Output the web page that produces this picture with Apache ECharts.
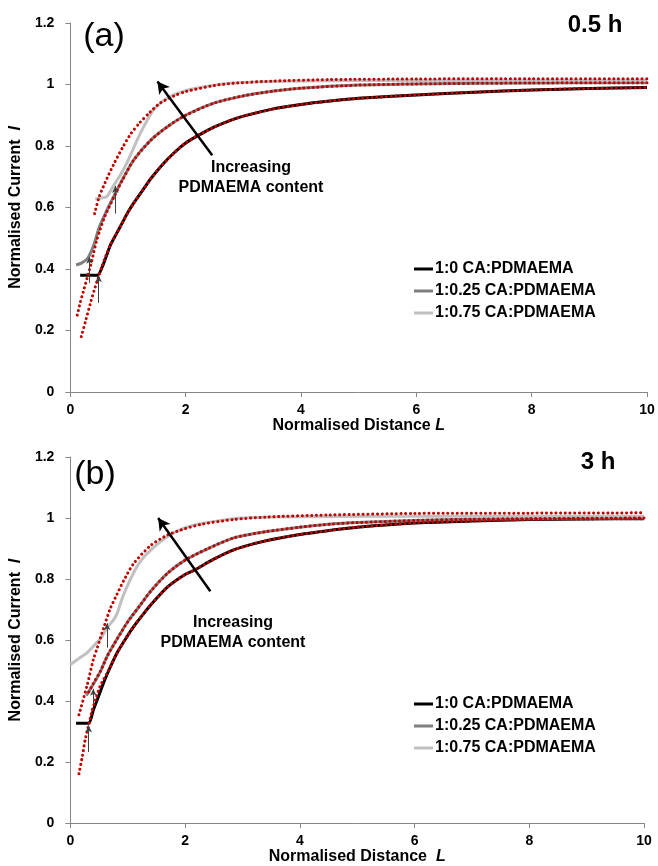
<!DOCTYPE html>
<html><head><meta charset="utf-8">
<script src="https://cdn.jsdelivr.net/npm/echarts@6/dist/echarts.min.js"></script>
<style>html,body{margin:0;padding:0;background:#fff}#c{width:658px;height:866px}</style>
</head><body><div id="c"></div>
<script>
// ---------- data ----------
const names = ['1:0 CA:PDMAEMA', '1:0.25 CA:PDMAEMA', '1:0.75 CA:PDMAEMA'];
const xTicks = [0, 2, 4, 6, 8, 10];
const yTicks = [0, 0.2, 0.4, 0.6, 0.8, 1, 1.2];

// panel (a) 0.5 h
const blackA_x = [0.17,0.3,0.47,0.55,0.62,0.7,0.8,0.9,1.0,1.1,1.25,1.4,1.6,1.8,2.0,2.25,2.5,2.8,3.0,3.5,4.0,4.5,5,6,7,8,9,10];
const blackA_y = [0.38,0.38,0.38,0.405,0.44,0.48,0.515,0.55,0.585,0.615,0.655,0.695,0.74,0.778,0.81,0.838,0.862,0.885,0.897,0.92,0.935,0.946,0.955,0.966,0.975,0.982,0.987,0.99];
const fitBlackA_x = [0.19,0.27,0.35,0.42,0.49,0.55,0.62,0.7,0.8,0.9,1.0,1.1,1.25,1.4,1.6,1.8,2.0,2.25,2.5,2.8,3.0,3.5,4.0,4.5,5,6,7,8,9,10];
const fitBlackA_y = [0.18,0.235,0.29,0.335,0.375,0.41,0.445,0.48,0.515,0.55,0.585,0.615,0.655,0.695,0.74,0.778,0.81,0.838,0.862,0.885,0.897,0.92,0.935,0.946,0.955,0.966,0.975,0.982,0.987,0.99];
const darkA_x = [0.1,0.2,0.3,0.4,0.5,0.6,0.75,0.9,1.1,1.4,1.7,2.0,2.5,3.0,3.5,4.0,5,6,8,10];
const darkA_y = [0.413,0.42,0.435,0.475,0.535,0.578,0.635,0.69,0.755,0.82,0.865,0.90,0.94,0.963,0.978,0.988,0.998,1.002,1.005,1.006];
const fitDarkA_x = [0.12,0.17,0.23,0.29,0.35,0.4,0.46,0.52,0.6,0.75,0.9,1.1,1.4,1.7,2.0,2.5,3.0,3.5,4.0,5,6,8,10];
const fitDarkA_y = [0.25,0.29,0.33,0.37,0.41,0.45,0.495,0.53,0.572,0.632,0.688,0.755,0.82,0.865,0.90,0.94,0.963,0.978,0.988,0.998,1.002,1.005,1.006];
const lightA_x = [0.43,0.5,0.63,0.7,0.78,0.88,0.98,1.1,1.21,1.32,1.44,1.6,1.79,2.0,2.25,2.5,2.83,3.5,4.5,6,8,10];
const lightA_y = [0.628,0.63,0.635,0.655,0.68,0.71,0.745,0.795,0.84,0.88,0.917,0.945,0.966,0.98,0.99,0.998,1.005,1.01,1.012,1.013,1.013,1.013];
const fitLightA_x = [0.42,0.5,0.6,0.75,0.92,1.05,1.2,1.38,1.56,1.8,2.0,2.5,2.83,3.5,4.5,6,8,10];
const fitLightA_y = [0.58,0.635,0.68,0.74,0.80,0.84,0.875,0.91,0.94,0.963,0.977,0.997,1.004,1.011,1.016,1.018,1.019,1.019];

// panel (b) 3 h
const blackB_x = [0.1,0.2,0.32,0.4,0.47,0.56,0.65,0.82,1.0,1.1,1.25,1.4,1.7,2.0,2.15,2.5,2.87,3.4,4.0,4.55,5,6,7,8,9,10];
const blackB_y = [0.327,0.327,0.327,0.37,0.405,0.45,0.492,0.56,0.615,0.643,0.68,0.715,0.775,0.815,0.828,0.865,0.897,0.925,0.946,0.96,0.97,0.984,0.99,0.995,0.997,0.998];
const fitBlackB_x = [0.15,0.21,0.26,0.33,0.38,0.44,0.52,0.65,0.82,1.0,1.1,1.25,1.4,1.7,2.0,2.15,2.5,2.87,3.4,4.0,4.55,5,6,7,8,9,10];
const fitBlackB_y = [0.162,0.22,0.275,0.33,0.37,0.405,0.45,0.495,0.56,0.615,0.643,0.68,0.715,0.775,0.815,0.828,0.865,0.897,0.925,0.946,0.96,0.97,0.984,0.99,0.995,0.997,0.998];
const darkB_x = [0.28,0.4,0.53,0.65,0.82,1.0,1.2,1.4,1.7,2.0,2.4,2.85,3.4,4.0,4.55,5,6,7,8,10];
const darkB_y = [0.418,0.455,0.50,0.55,0.605,0.66,0.71,0.76,0.82,0.862,0.9,0.935,0.955,0.97,0.98,0.985,0.992,0.996,0.998,1.0];
const fitDarkB_x = [0.32,0.4,0.53,0.65,0.82,1.0,1.2,1.4,1.7,2.0,2.4,2.85,3.4,4.0,4.55,5,6,7,8,10];
const fitDarkB_y = [0.43,0.458,0.50,0.55,0.605,0.66,0.71,0.76,0.82,0.862,0.9,0.935,0.955,0.97,0.98,0.985,0.992,0.996,0.998,1.0];
const lightB_x = [0.0,0.15,0.3,0.45,0.53,0.64,0.76,0.82,0.9,1.0,1.1,1.25,1.4,1.7,2.0,2.3,2.85,3.5,4.5,6,8,10];
const lightB_y = [0.52,0.54,0.56,0.59,0.605,0.64,0.668,0.69,0.735,0.78,0.82,0.865,0.895,0.94,0.968,0.982,0.998,1.003,1.005,1.006,1.006,1.006];
const fitLightB_x = [0.15,0.29,0.4,0.47,0.58,0.7,0.8,0.93,1.1,1.4,1.7,2.0,2.3,2.85,3.4,4.5,6,8,10];
const fitLightB_y = [0.355,0.45,0.535,0.575,0.64,0.705,0.745,0.795,0.85,0.91,0.945,0.965,0.98,0.995,1.003,1.01,1.015,1.016,1.017];

// annotation arrows, in data units [x1, y1, x2, y2]
const smallArrowsA = [[0.33,0.355,0.33,0.44],[0.49,0.29,0.49,0.38],[0.78,0.58,0.78,0.67]];
const bigArrowA = [2.46,0.77,1.51,1.01];
const smallArrowsB = [[0.32,0.233,0.32,0.32],[0.4,0.39,0.4,0.44],[0.64,0.575,0.64,0.655]];
const bigArrowB = [2.44,0.76,1.53,1.0];

// ---------- chart ----------
const FONT = '"Liberation Sans", Arial, sans-serif';
const zip = (xs, ys) => xs.map((x, i) => [x, ys[i]]);
const COLORS = ['#000000', '#7f7f7f', '#c0c0c0'];
const RED = '#c00000';

function xAxis(gi, nameText) {
  return {
    type: 'value', gridIndex: gi, min: 0, max: 10, interval: 2,
    name: nameText, nameLocation: 'middle', nameGap: 24,
    nameTextStyle: { fontFamily: FONT, fontWeight: 'bold', fontSize: 16, color: '#000',
      rich: { i: { fontFamily: FONT, fontWeight: 'bold', fontStyle: 'italic', fontSize: 16, color: '#000' } } },
    axisLine: { show: true, lineStyle: { color: '#868686', width: 1 } },
    axisTick: { show: true, length: 5, lineStyle: { color: '#868686' } },
    axisLabel: { margin: 11, fontFamily: FONT, fontWeight: 'bold', fontSize: 14, color: '#000',
      formatter: v => xTicks.includes(v) ? String(v) : '' },
    splitLine: { show: false }
  };
}
function yAxis(gi) {
  return {
    type: 'value', gridIndex: gi, min: 0, max: 1.2, interval: 0.2,
    name: 'Normalised Current  {i|I}', nameLocation: 'middle', nameGap: 40,
    nameTextStyle: { fontFamily: FONT, fontWeight: 'bold', fontSize: 16, color: '#000',
      rich: { i: { fontFamily: FONT, fontWeight: 'bold', fontStyle: 'italic', fontSize: 16, color: '#000' } } },
    axisLine: { show: true, lineStyle: { color: '#868686', width: 1 } },
    axisTick: { show: true, length: 5, lineStyle: { color: '#868686' } },
    axisLabel: { margin: 16, fontFamily: FONT, fontWeight: 'bold', fontSize: 14, color: '#000',
      formatter: v => { const t = yTicks.find(k => Math.abs(k - v) < 1e-6); return t === undefined ? '' : String(t); } },
    splitLine: { show: false }
  };
}
function solid(gi, name, color, data) {
  return { type: 'line', name, xAxisIndex: gi, yAxisIndex: gi, data, showSymbol: false, symbol: 'none',
    smooth: 0.25, lineStyle: { color, width: 3 }, itemStyle: { color }, z: 2, silent: true };
}
function fit(gi, data) {
  return { type: 'line', name: 'fit', xAxisIndex: gi, yAxisIndex: gi, data, showSymbol: false, symbol: 'none',
    smooth: 0.25, lineStyle: { color: RED, width: 3, type: [0.1, 4.6], cap: 'round' }, z: 3, silent: true };
}
function arrowSeries(gi, smalls, big) {
  const d = smalls.map(a => [
    { coord: [a[0], a[1]], symbol: 'none' },
    { coord: [a[2], a[3]], symbol: 'arrow', symbolSize: [5, 7] }
  ]);
  d.push([
    { coord: [big[0], big[1]], symbol: 'none', lineStyle: { width: 2.5, color: '#000' } },
    { coord: [big[2], big[3]], symbol: 'arrow', symbolSize: [10, 12] }
  ]);
  return { type: 'line', name: 'arrows', xAxisIndex: gi, yAxisIndex: gi, data: [], silent: true, z: 5,
    markLine: { silent: true, animation: false, symbol: ['none', 'arrow'], label: { show: false },
      lineStyle: { color: '#404040', width: 1, type: 'solid' }, emphasis: { disabled: true }, data: d } };
}
function legend(top) {
  return { left: 409, top, orient: 'vertical', itemWidth: 19, itemHeight: 3, itemGap: 6,
    icon: 'rect', selectedMode: false,
    textStyle: { fontFamily: FONT, fontWeight: 'bold', fontSize: 16, color: '#000', padding: [0, 0, 0, -3] },
    data: names };
}
function txt(x, y, text, font, align) {
  return { type: 'text', x, y, silent: true,
    style: { text, font, fill: '#000', textAlign: align || 'center', textVerticalAlign: 'middle', lineHeight: 20 } };
}

const chart = echarts.init(document.getElementById('c'), null, { renderer: 'canvas' });
chart.setOption({
  animation: false,
  backgroundColor: '#fff',
  grid: [
    { left: 70, right: 11, top: 23, height: 369 },
    { left: 68, right: 14, top: 457, height: 367 }
  ],
  xAxis: [xAxis(0, 'Normalised Distance {i|L}'), xAxis(1, 'Normalised Distance  {i|L}')],
  yAxis: [yAxis(0), yAxis(1)],
  legend: [legend(256), legend(691)],
  series: [
    solid(0, names[0], COLORS[0], zip(blackA_x, blackA_y)),
    solid(0, names[1], COLORS[1], zip(darkA_x, darkA_y)),
    solid(0, names[2], COLORS[2], zip(lightA_x, lightA_y)),
    fit(0, zip(fitBlackA_x, fitBlackA_y)),
    fit(0, zip(fitDarkA_x, fitDarkA_y)),
    fit(0, zip(fitLightA_x, fitLightA_y)),
    arrowSeries(0, smallArrowsA, bigArrowA),
    solid(1, names[0], COLORS[0], zip(blackB_x, blackB_y)),
    solid(1, names[1], COLORS[1], zip(darkB_x, darkB_y)),
    solid(1, names[2], COLORS[2], zip(lightB_x, lightB_y)),
    fit(1, zip(fitBlackB_x, fitBlackB_y)),
    fit(1, zip(fitDarkB_x, fitDarkB_y)),
    fit(1, zip(fitLightB_x, fitLightB_y)),
    arrowSeries(1, smallArrowsB, bigArrowB)
  ],
  graphic: [
    txt(104, 37, '(a)', '34px ' + FONT),
    txt(595, 25, '0.5 h', 'bold 24px ' + FONT),
    txt(251, 178, 'Increasing\nPDMAEMA content', 'bold 16px ' + FONT),
    txt(95, 475, '(b)', '34px ' + FONT),
    txt(598, 462, '3 h', 'bold 24px ' + FONT),
    txt(233, 633, 'Increasing\nPDMAEMA content', 'bold 16px ' + FONT)
  ]
});
</script></body></html>
